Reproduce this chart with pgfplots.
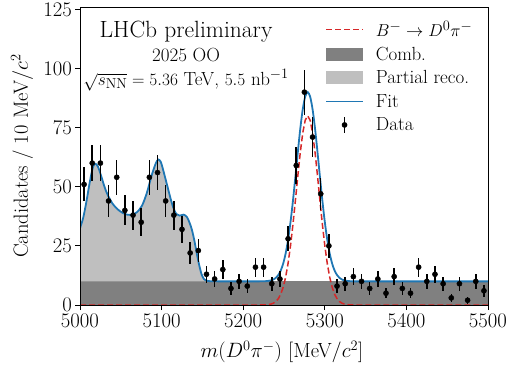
\documentclass[border=0pt]{standalone}
\usepackage{pgfplots}
\usepackage{pgfplotstable}
\pgfplotsset{compat=1.18}
\definecolor{combgray}{RGB}{128,128,128}
\definecolor{partgray}{RGB}{191,191,191}
\definecolor{mplblue}{RGB}{31,119,180}
\definecolor{mplred}{RGB}{214,39,40}

\protected\def\tickfont{\fontsize{21}{25}\selectfont}
\protected\def\labfont{\fontsize{20.5}{24}\selectfont}
\protected\def\legfont{\fontsize{19}{22}\selectfont}
\protected\def\bigfont{\fontsize{23.5}{28}\selectfont}
\protected\def\decayarrow{\rightarrow}
\protected\def\lgap{\hskip10pt\relax}

\pgfplotsset{
  leg red/.style={legend image code/.code={\draw[mplred, line width=1.5pt, dash pattern=on 6pt off 3pt] (0pt,0pt) -- (37pt,0pt);}},
  leg blue/.style={legend image code/.code={\draw[mplblue, line width=1.8pt] (0pt,0pt) -- (37pt,0pt);}},
  leg comb/.style={legend image code/.code={\fill[combgray] (0pt,-6.5pt) rectangle (37pt,6.5pt);}},
  leg part/.style={legend image code/.code={\fill[partgray] (0pt,-6.5pt) rectangle (37pt,6.5pt);}},
  leg data/.style={legend image code/.code={\draw[black, line width=1.5pt] (18.5pt,-8pt) -- (18.5pt,8pt); \fill[black] (18.5pt,0pt) circle (2.6pt);}},
}

\pgfplotstableread{
x y e
5005 51 7.14
5015 60 7.75
5025 60 7.75
5035 44 6.63
5045 54 7.35
5055 40 6.32
5065 38 6.16
5075 35 5.92
5085 54 7.35
5095 56 7.48
5105 44 6.63
5115 38 6.16
5125 32 5.66
5135 22 4.69
5145 23 4.80
5155 13 3.61
5165 11 3.32
5175 15 3.87
5185 7 2.65
5195 10 3.16
5205 8 2.83
5215 16 4.00
5225 16 4.00
5235 9 3.00
5245 11 3.32
5255 28 5.29
5265 59 7.68
5275 90 9.49
5285 71 8.43
5295 47 6.86
5305 25 5.00
5315 8 2.83
5325 9 3.00
5335 12 3.46
5345 10 3.16
5355 7 2.65
5365 11 3.32
5375 5 2.24
5385 12 3.46
5395 7 2.65
5405 5 2.24
5415 16 4.00
5425 10 3.16
5435 13 3.61
5445 9 3.00
5455 3 1.73
5465 9 3.00
5475 2 1.41
5485 10 3.16
5495 6 2.45
}\mydata

\pgfplotstableread{
x y
5000 32.5
5002 34.3
5004 37
5006 40.3
5008 44
5010 48
5012 52
5014 55.6
5016 58.5
5019 59.7
5022 58.5
5024 56.7
5026 54.5
5028 52.2
5030 50
5032 48.1
5034 46.5
5037 44.5
5040 42.8
5043 41.5
5046 40.5
5049 39.7
5052 39
5055 38.5
5058 38.2
5061 38.1
5064 38.2
5067 38.6
5070 39.3
5073 40.4
5076 42
5079 44.4
5082 47.5
5085 51.2
5088 55
5091 58.3
5093 60
5096 61.5
5099 60.5
5102 57
5105 53
5108 49
5111 45
5114 41.5
5116 39.7
5118 38.5
5120 37.9
5122 37.8
5125 38.1
5127 38.2
5129 37.9
5131 37.2
5133 36
5134 35
5136 33.2
5137 32
5139 29.2
5140 27.5
5142 23.9
5143 22
5145 18.6
5146 17
5148 14.2
5149 13
5151 11.4
5152 10.9
5155 10.3
5160 10.05
5170 10
5000 10
}\mypartial

\pgfplotstableread{
x y
5000 0
5219 0
5224 0.03
5229 0.11
5234 0.39
5237 0.78
5240 1.47
5243 2.66
5246 4.58
5249 7.52
5252 11.78
5255 17.63
5258 25.13
5261 34.18
5264 44.32
5267 54.82
5270 64.67
5273 72.79
5276 78.13
5279 80
5282 78.13
5285 72.79
5288 64.67
5291 54.82
5294 44.32
5297 34.18
5300 25.13
5303 17.63
5306 11.78
5309 7.52
5312 4.58
5315 2.66
5318 1.47
5321 0.78
5324 0.39
5329 0.11
5334 0.03
5339 0
5500 0
}\mysignal

\pgfplotstableread{
x y
5000 32.5
5004 37
5008 44
5012 52
5016 58.5
5019 59.7
5022 58.5
5026 54.5
5030 50
5034 46.5
5040 42.8
5046 40.5
5052 39
5058 38.2
5064 38.2
5070 39.3
5076 42
5082 47.5
5088 55
5093 60
5096 61.5
5099 60.5
5102 57
5105 53
5108 49
5111 45
5114 41.5
5118 38.5
5122 37.8
5127 38.2
5131 37.2
5134 35
5137 32
5140 27.5
5143 22
5146 17
5149 13
5152 10.9
5155 10.3
5160 10.05
5170 10
5219 10
5224 10.03
5229 10.11
5234 10.39
5237 10.78
5240 11.47
5243 12.66
5246 14.58
5249 17.52
5252 21.78
5255 27.63
5258 35.13
5261 44.18
5264 54.32
5267 64.82
5270 74.67
5273 82.79
5276 88.13
5279 90
5282 88.13
5285 82.79
5288 74.67
5291 64.82
5294 54.32
5297 44.18
5300 35.13
5303 27.63
5306 21.78
5309 17.52
5312 14.58
5315 12.66
5318 11.47
5321 10.78
5324 10.39
5329 10.11
5334 10.03
5339 10
5500 10
}\myfit

\begin{document}
\begin{tikzpicture}
\begin{axis}[
  at={(0pt,0pt)}, anchor=south west,
  width=408pt, height=298pt, scale only axis,
  set layers, axis on top,
  xmin=5000, xmax=5500, ymin=0, ymax=126,
  xtick={5000,5100,5200,5300,5400,5500},
  ytick={0,25,50,75,100,125},
  scaled ticks=false,
  /pgf/number format/set thousands separator={},
  tick align=outside, xtick pos=bottom, ytick pos=left,
  major tick length=5pt,
  tick style={line width=0.9pt, black},
  axis line style={line width=0.9pt},
  tick label style={font=\tickfont, inner sep=3pt},
  xticklabel style={inner ysep=3.5pt},
  yticklabel style={inner ysep=1pt},
  label style={font=\labfont},
  xlabel={$m(D^0\pi^-)$ [MeV$/c^2$]},
  ylabel={Candidates / 10 MeV$/c^2$},
  xlabel style={at={(axis description cs:0.495,-0.158)}, anchor=center},
  ylabel style={at={(axis description cs:-0.142,0.5)}, anchor=center},
  legend style={at={(0.593,0.968)}, anchor=north west,
    draw=none, fill=none, font=\legfont, row sep=5pt},
  legend cell align=left,
]
\addplot[mplred, line width=1.5pt, dash pattern=on 6pt off 3pt, leg red] table[x=x,y=y]{\mysignal};
\addlegendentry{\lgap$B^-\decayarrow D^0\pi^-$}
\addplot[draw=none, fill=combgray, on layer=pre main, leg comb] coordinates {(5000,0) (5500,0) (5500,10) (5000,10)} -- cycle;
\addlegendentry{\lgap Comb.}
\addplot[draw=none, fill=partgray, on layer=pre main, leg part] table[x=x,y=y]{\mypartial} -- cycle;
\addlegendentry{\lgap Partial reco.}
\addplot[mplblue, line width=1.8pt, smooth, leg blue] table[x=x,y=y]{\myfit};
\addlegendentry{\lgap Fit}
\addplot[only marks, mark=*, mark size=2.6pt, black, leg data,
  error bars/.cd, y dir=both, y explicit, error mark=none,
  error bar style={line width=1.5pt, black}]
  table[x=x, y=y, y error=e]{\mydata};
\addlegendentry{\lgap Data}

\node[anchor=base] at (rel axis cs:0.26,0.897) {\bigfont LHCb preliminary};
\node[anchor=base] at (rel axis cs:0.26,0.816) {\legfont 2025 OO};
\node[anchor=base] at (rel axis cs:0.26,0.738) {\legfont $\sqrt{s_{\mathrm{NN}}} = 5.36$ TeV, $5.5$ nb$^{-1}$};
\end{axis}
\pgfresetboundingbox
\path[use as bounding box] (-80pt,-62pt) rectangle (438pt,305pt);
\end{tikzpicture}
\end{document}
